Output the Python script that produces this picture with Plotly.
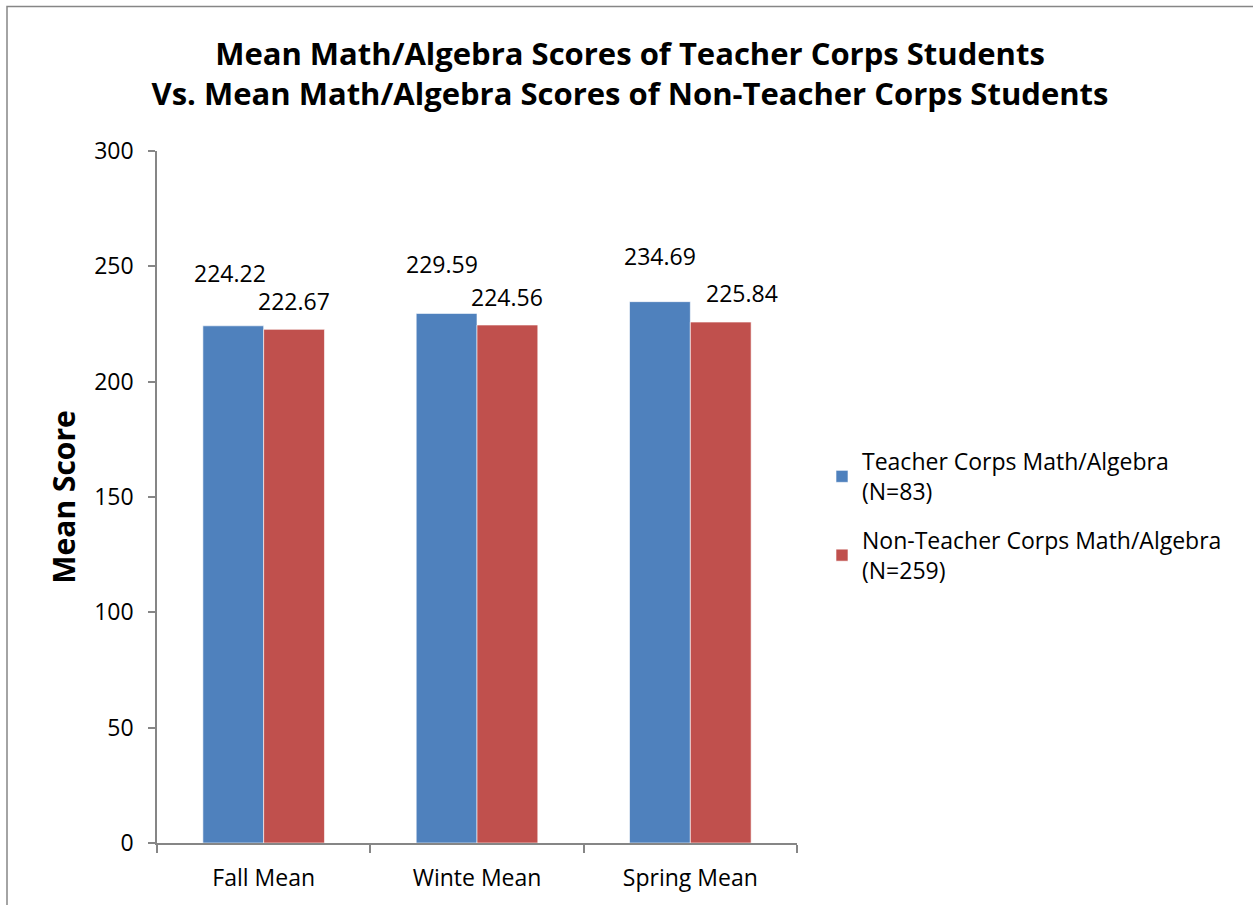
import plotly.graph_objects as go

categories = ["Fall Mean", "Winte Mean", "Spring Mean"]
teacher_corps = [224.22, 229.59, 234.69]
non_teacher_corps = [222.67, 224.56, 225.84]
series_names = ["Teacher Corps Math/Algebra<br>(N=83)",
                "Non-Teacher Corps Math/Algebra<br>(N=259)"]
y_ticks = [0, 50, 100, 150, 200, 250, 300]

# label offsets (pixels) relative to bar top-centre, as placed in the original
label_dx = [[-3, -5, 0], [0, 0, 21]]
label_dy = [[53, 49, 46], [28, 28, 29]]

BLUE = "#4F81BD"
RED = "#C0504D"
AXIS = "#868686"
FONT = "Open Sans"

fig = go.Figure()
for k, (name, vals, col) in enumerate([(series_names[0], teacher_corps, BLUE),
                                       (series_names[1], non_teacher_corps, RED)]):
    fig.add_trace(go.Bar(x=categories, y=vals, name=name, legendgroup=f"g{k}",
                         marker=dict(color=col, line=dict(color="rgba(255,255,255,0.6)", width=1))))

W, H = 1253, 905
L, R, T, B = 157, 1253 - 797, 151, 905 - 845
pw, ph = W - L - R, H - T - B
cat_w = pw / len(categories)
bar_w = cat_w * 0.57 / 2

annotations = []
for s, vals in enumerate([teacher_corps, non_teacher_corps]):
    for i, v in enumerate(vals):
        off = (-0.5 if s == 0 else 0.5) * bar_w
        annotations.append(dict(x=categories[i], y=v, xref="x", yref="y",
                                text=f"{v:.2f}", showarrow=False,
                                xshift=off + label_dx[s][i], yshift=label_dy[s][i],
                                xanchor="center", yanchor="middle",
                                font=dict(family=FONT, size=23, color="#000")))

fig.update_layout(
    width=W, height=H,
    margin=dict(l=L, r=R, t=T, b=B),
    paper_bgcolor="white", plot_bgcolor="white",
    barmode="group", bargap=0.43, bargroupgap=0,
    title=dict(text="Mean Math/Algebra Scores of Teacher Corps Students<br>"
                    "Vs. Mean Math/Algebra Scores of Non-Teacher Corps Students",
               x=(630) / W, xanchor="center", y=1 - 65 / H, yanchor="middle",
               font=dict(family=FONT, size=31, color="#000", weight="bold")),
    font=dict(family=FONT, size=23, color="#000"),
    showlegend=True,
    legend=dict(x=(822 - L) / pw, xanchor="left", y=0.5 + (845 - 517 - ph / 2) / ph,
                yanchor="middle", font=dict(family=FONT, size=23, color="#000"),
                bgcolor="rgba(0,0,0,0)", tracegroupgap=16, itemwidth=30),
    annotations=annotations,
    shapes=[dict(type="rect", xref="paper", yref="paper",
                 x0=(7 - L) / pw, x1=(1300 - L) / pw,
                 y0=(845 - 950) / ph, y1=(845 - 6) / ph,
                 line=dict(color=AXIS, width=1.5), fillcolor="rgba(0,0,0,0)", layer="below")],
)

fig.update_xaxes(type="category", showline=True, linecolor=AXIS, linewidth=1.5,
                 ticks="outside", tickson="boundaries", ticklen=8, tickcolor=AXIS, tickwidth=1.5,
                 showgrid=False, zeroline=False, ticklabelstandoff=14,
                 tickfont=dict(family=FONT, size=23, color="#000"))
fig.update_yaxes(range=[0, 300], tickvals=y_ticks, showline=True, linecolor=AXIS, linewidth=1.5,
                 ticks="outside", ticklen=7, tickcolor=AXIS, tickwidth=1.5,
                 showgrid=False, zeroline=False, ticklabelstandoff=10,
                 tickfont=dict(family=FONT, size=23, color="#000"),
                 title=dict(text="<b>Mean Score</b>", standoff=10,
                            font=dict(family=FONT, size=30, color="#000")))

fig.write_html("out.html", config={"displayModeBar": False},
               post_script="document.body.style.margin='0px';")
